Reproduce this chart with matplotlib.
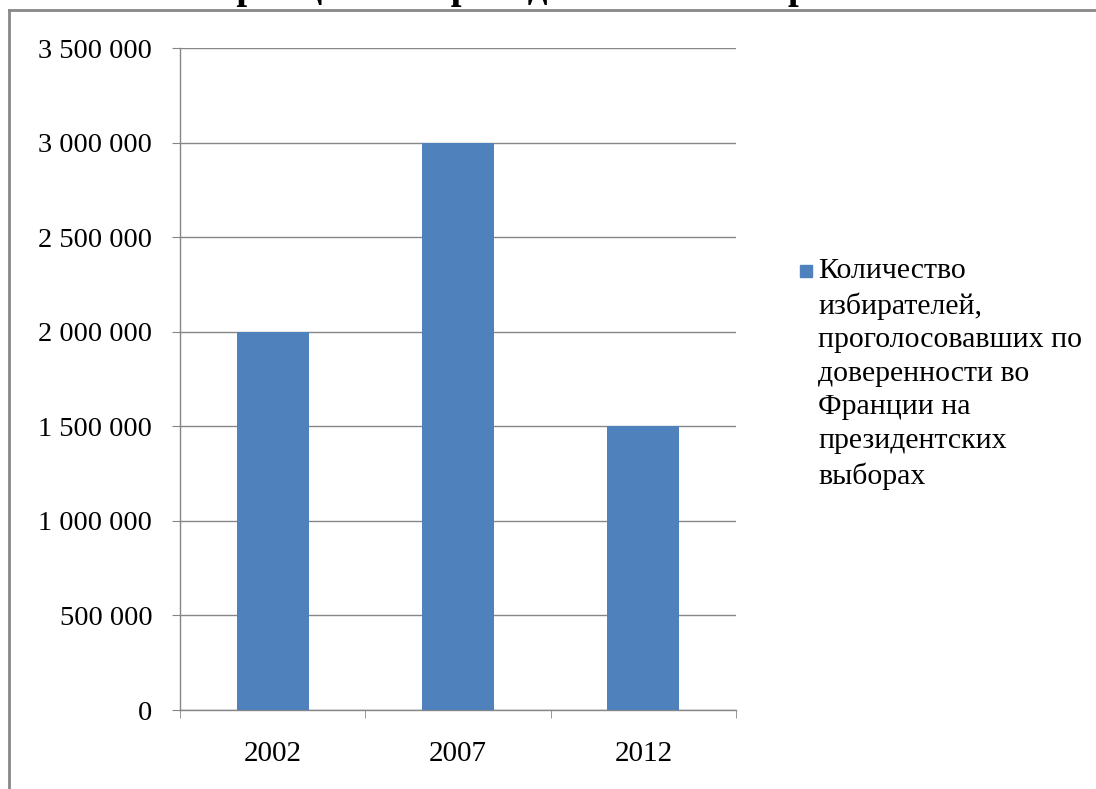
import matplotlib
matplotlib.use("Agg")
import matplotlib.pyplot as plt
from matplotlib.lines import Line2D
from matplotlib.patches import Rectangle
from matplotlib.ticker import FuncFormatter, MultipleLocator

# Data
years = ["2002", "2007", "2012"]
voters = [2000000, 3000000, 1500000]
series_label = ("Количество\nизбирателей,\nпроголосовавших по\n"
                "доверенности во\nФранции на\nпрезидентских\nвыборах")
title_text = "Франции на президентских выборах"

bar_color = "#4F81BD"
grid_color = "#868686"
W, H = 1096, 789

plt.rcParams["font.family"] = ["Liberation Serif", "DejaVu Serif"]

fig = plt.figure(figsize=(W / 100, H / 100), dpi=100)
fig.patch.set_facecolor("white")

ax = fig.add_axes([180 / W, 1 - 710 / H, (736 - 180) / W, (710 - 48) / H])
x = list(range(len(years)))
ax.bar(x, voters, width=0.39, color=bar_color, zorder=3)

ax.set_xlim(-0.5, len(years) - 0.5)
ax.set_ylim(0, 3500000)
ax.yaxis.set_major_locator(MultipleLocator(500000))
ax.yaxis.set_major_formatter(FuncFormatter(lambda v, p: f"{int(v):,}".replace(",", " ")))
ax.grid(axis="y", color=grid_color, lw=1, zorder=0)

ax.set_xticks(x)
ax.set_xticklabels(years)
ax.set_xticks([i - 0.5 for i in range(len(years) + 1)], minor=True)
ax.tick_params(axis="x", which="major", length=0, pad=22, labelsize=21)
ax.tick_params(axis="x", which="minor", length=6, color=grid_color, direction="out")
ax.tick_params(axis="y", length=6, color=grid_color, direction="out", pad=14, labelsize=20.5)

for s in ["top", "right"]:
    ax.spines[s].set_visible(False)
for s in ["left", "bottom"]:
    ax.spines[s].set_color(grid_color)
    ax.spines[s].set_linewidth(1)

# legend drawn by hand so the marker sits on the first line
fig.add_artist(Rectangle((800 / W, 1 - 277 / H), 12 / W, 12 / H,
                         transform=fig.transFigure, color=bar_color))
fig.text(818 / W, 1 - 258 / H, series_label, ha="left", va="top",
         fontsize=21.5, linespacing=1.38)

# chart frame (cut off at the top and right)
fig.add_artist(Line2D([9 / W, 1.0], [1 - 10 / H, 1 - 10 / H],
                      transform=fig.transFigure, color="#888888", lw=2))
fig.add_artist(Line2D([9 / W, 9 / W], [1 - 10 / H, 0.0],
                      transform=fig.transFigure, color="#888888", lw=2))

# title, mostly outside the picture
fig.text(526 / W, 1 + 2 / H, title_text, ha="center", va="baseline",
         fontsize=28, fontweight="bold")

fig.savefig("out.png", dpi=100)
